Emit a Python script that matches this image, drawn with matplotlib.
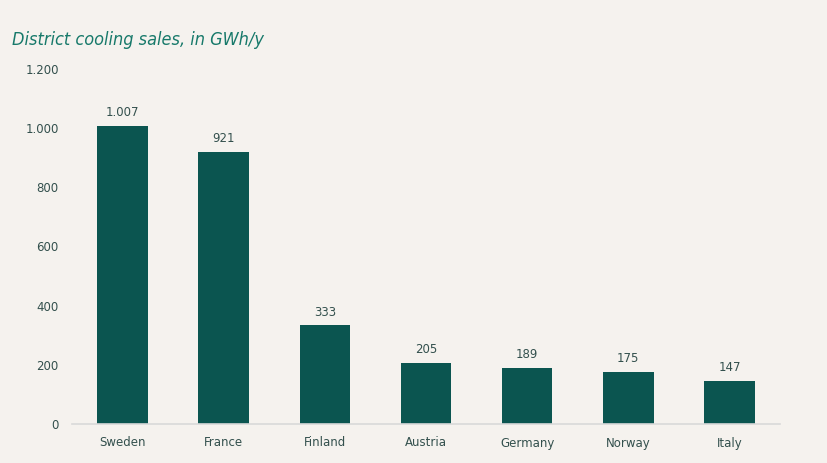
import matplotlib
matplotlib.use("Agg")
import matplotlib.pyplot as plt
from matplotlib.ticker import FuncFormatter

countries = ["Sweden", "France", "Finland", "Austria", "Germany", "Norway", "Italy"]
sales = [1007, 921, 333, 205, 189, 175, 147]
yticks = [0, 200, 400, 600, 800, 1000, 1200]

bg = "#f5f2ee"
bar_color = "#0b5550"
text_color = "#33504d"

def fmt(v):
    return f"{int(v):,}".replace(",", ".")

fig = plt.figure(figsize=(8.28, 4.63), dpi=100, facecolor=bg)
ax = fig.add_axes([72/828, 1 - 424/463, 708/828, (424-69)/463])
ax.set_facecolor(bg)

x = range(len(countries))
bars = ax.bar(x, sales, width=0.5, color=bar_color)
for xi, v in zip(x, sales):
    ax.annotate(fmt(v), (xi, v), xytext=(0, 5), textcoords="offset points",
                ha="center", va="bottom", fontsize=8.5, color=text_color)

ax.set_xlim(-0.5, len(countries) - 0.5)
ax.set_ylim(0, 1200)
ax.set_yticks(yticks)
ax.yaxis.set_major_formatter(FuncFormatter(lambda v, p: fmt(v)))
ax.set_xticks(list(x))
ax.set_xticklabels(countries)
ax.tick_params(axis="both", length=0, labelsize=8.5, labelcolor=text_color)
ax.tick_params(axis="y", pad=9.5)
ax.tick_params(axis="x", pad=9)
for s in ["top", "right", "left"]:
    ax.spines[s].set_visible(False)
ax.spines["bottom"].set_color("#d9d9d9")
ax.spines["bottom"].set_linewidth(1.2)

fig.text(12/828, 1 - 40/463, "District cooling sales, in GWh/y", fontsize=13,
         style="italic", fontstretch="condensed", color="#17796a",
         ha="left", va="center", family=["DejaVu Sans"])

fig.savefig("out.png", dpi=100, facecolor=bg)
